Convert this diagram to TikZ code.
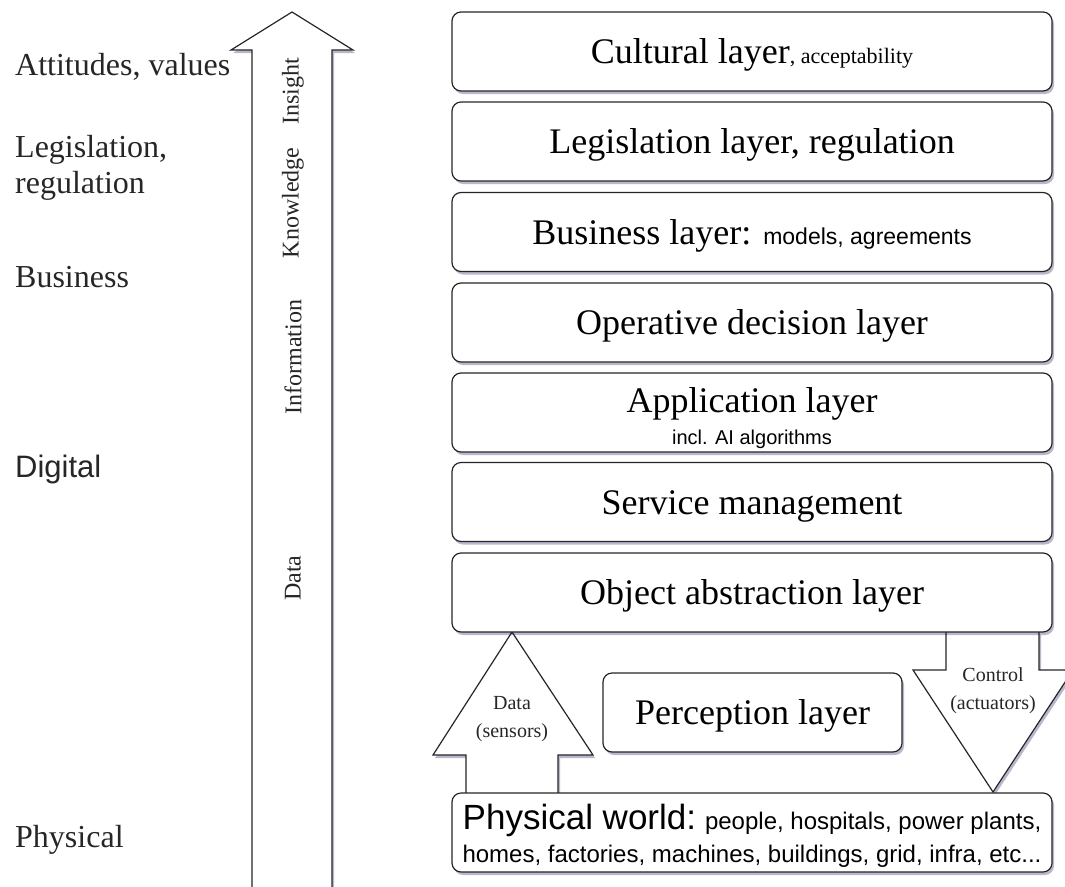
\documentclass[tikz,border=0pt]{standalone}
\usepackage{fontspec}
\setmainfont{Liberation Serif}
\setsansfont{Liberation Sans}
\usetikzlibrary{shadows}
\newcommand\fsz[2]{\fontsize{#1}{#2}\selectfont}
\begin{document}
\begin{tikzpicture}[x=1pt,y=-1pt,
  softshadow/.style={drop shadow={shadow xshift=2pt, shadow yshift=-3pt, opacity=0.28, fill=black!70!blue}},
  layer/.style={draw=black!85, line width=1.2pt, fill=white, rounded corners=9pt,
    minimum width=600pt, minimum height=79pt, inner sep=0pt, align=center,
    font=\fsz{36}{40}, softshadow},
  oneline/.style={text height=30pt, text depth=6pt},
  blockarrow/.style={draw=black!85, line width=1.2pt, fill=white, line join=miter, softshadow},
  sidelbl/.style={anchor=base west, inner sep=0pt, font=\fsz{32}{36}, text=black!85},
  flowlbl/.style={rotate=90, inner sep=0pt, font=\fsz{24}{28}, text=black!85},
  arrowlbl/.style={inner sep=0pt, align=center, font=\fsz{20}{28}, text=black!85}]
\useasboundingbox (0,0) rectangle (1065,886);
\clip (0,0) rectangle (1065,886);

% rising arrow of abstraction levels
\draw[blockarrow] (252,900) -- (252,50) -- (231,50) -- (292,12) -- (353,50) -- (332,50) -- (332,900);
\node[flowlbl] (insight) at (293,91) {Insight};
\node[flowlbl] (knowledge) at (293,203) {Knowledge};
\node[flowlbl] (information) at (293,357) {Information};
\node[flowlbl] (datalvl) at (293,578) {Data};

% levels on the left (base anchor of a two-line label sits on its last line)
\node[sidelbl] (attitudes) at (15,75) {Attitudes, values};
\node[sidelbl, align=left] (legis) at (15,193) {Legislation,\\regulation};
\node[sidelbl] (business) at (15,287) {Business};
\node[sidelbl, font=\sffamily\fsz{31}{36}] (digital) at (15,477) {Digital};
\node[sidelbl] (physical) at (15,847) {Physical};

% sensor and actuator block arrows
\draw[blockarrow] (466,793) -- (466,755) -- (433,755) -- (512,632) -- (593,755) -- (558,755) -- (558,793);
\draw[blockarrow] (946,632) -- (946,670) -- (913,670) -- (993,792) -- (1073,670) -- (1039,670) -- (1039,632);
\node[arrowlbl] (sensors) at (512,719) {Data\\(sensors)};
\node[arrowlbl] (actuators) at (993,691) {Control\\(actuators)};

% layer stack
\node[layer, oneline] (cultural) at (752,51.5) {Cultural layer{\fsz{22}{26}, acceptability}};
\node[layer, oneline] (legislation) at (752,141.5) {Legislation layer, regulation};
\node[layer, oneline] (businessl) at (752,232) {Business layer: {\sffamily\fsz{23}{26}models, agreements}};
\node[layer, oneline] (operative) at (752,322.5) {Operative decision layer};
\node[layer] (application) at (752,412.5) {\rule{0pt}{36pt}Application layer\\[-8pt]{\sffamily\fsz{20}{24}incl. AI algorithms}};
\node[layer, oneline] (service) at (752,502) {Service management};
\node[layer, oneline] (object) at (752,592.5) {Object abstraction layer};
\node[layer, oneline, minimum width=299pt] (perception) at (752.5,712.5) {Perception layer};
\node[layer, font=\sffamily\fsz{24}{33}] (world) at (752,832.5)
  {\rule{0pt}{31pt}{\fsz{35}{33}Physical world:} people, hospitals, power plants,\\homes, factories, machines, buildings, grid, infra, etc...};
\end{tikzpicture}
\end{document}
